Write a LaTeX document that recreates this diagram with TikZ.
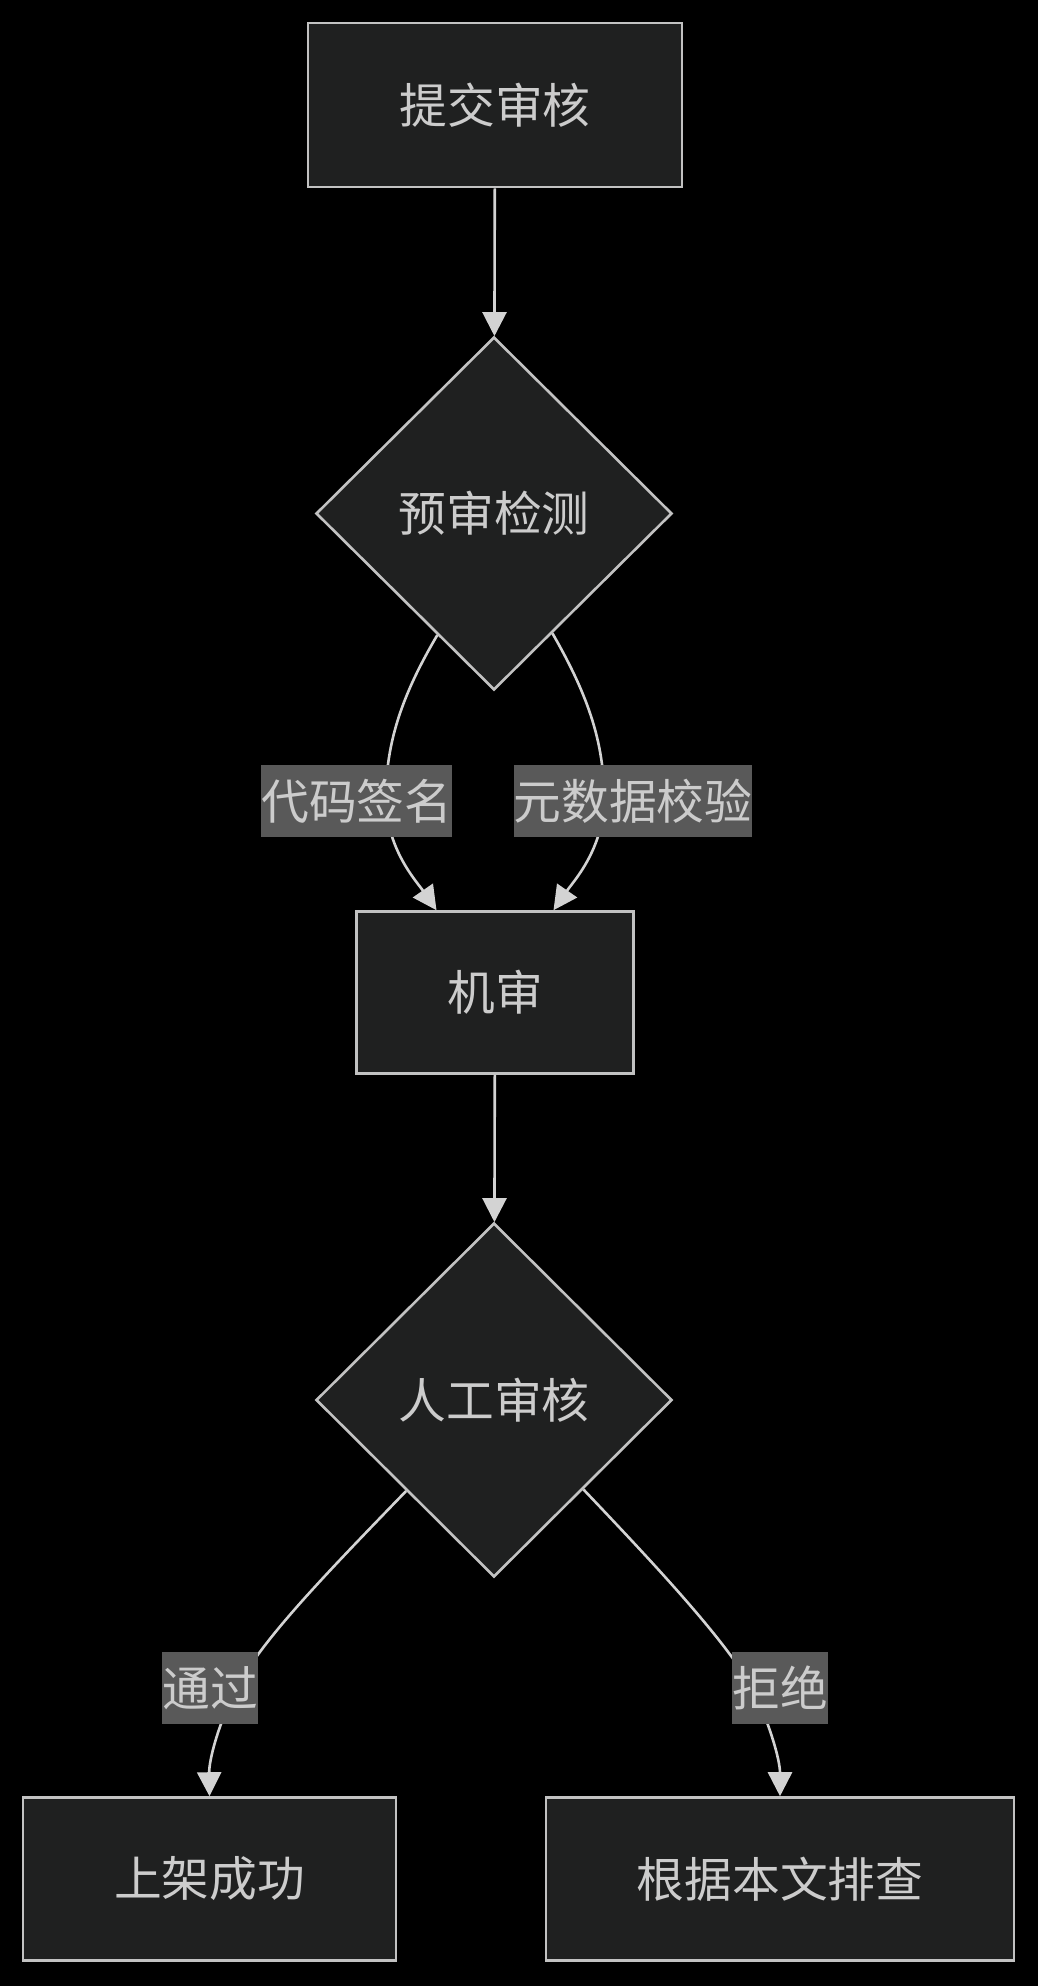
\documentclass[tikz,border=0pt]{standalone}
\usepackage{fontspec}
\setmainfont{Noto Sans CJK SC}
\usetikzlibrary{shapes.geometric,arrows.meta}
\definecolor{nodefill}{HTML}{1F2020}
\definecolor{nodeline}{HTML}{C2C2C2}
\definecolor{edgecol}{HTML}{D3D3D3}
\definecolor{txtcol}{HTML}{CCCCCC}
\definecolor{lblbg}{HTML}{595959}
\newcommand\dfont{\fontsize{47.75pt}{57pt}\selectfont}
\begin{document}
\begin{tikzpicture}[x=1pt,y=-1pt,
  box/.style={draw=nodeline,fill=nodefill,line width=2.6pt,inner sep=0pt,text=txtcol,font=\dfont},
  rectbox/.style={box,rectangle},
  decision/.style={box,diamond},
  edge/.style={draw=edgecol,line width=2.6pt,-{Triangle[length=24pt,width=24pt]}},
  lbl/.style={fill=lblbg,text=txtcol,font=\dfont,inner xsep=0pt,inner ysep=0pt,minimum height=72pt}
]
\fill[black] (0,0) rectangle (1038,1986);
\useasboundingbox (0,0) rectangle (1038,1986);

\node[rectbox,minimum width=374pt,minimum height=164pt] (submit) at (495,105) {提交审核};
\node[decision,minimum width=356pt,minimum height=353pt] (pre) at (494,513.5) {预审检测};
\node[rectbox,minimum width=277pt,minimum height=162pt] (machine) at (495,992.5) {机审};
\node[decision,minimum width=356pt,minimum height=354pt] (manual) at (494,1400) {人工审核};
\node[rectbox,minimum width=373pt,minimum height=163pt] (ok) at (209.5,1879) {上架成功};
\node[rectbox,minimum width=468pt,minimum height=163pt] (rej) at (780,1879) {根据本文排查};

\coordinate (c1) at (386,801);
\coordinate (c2) at (604,801);
\coordinate (c3) at (236,1689);
\coordinate (c4) at (753,1689);

\draw[edge] (submit) -- (pre);
\draw[edge] (pre.245) .. controls (405,690) and (385,740) .. (c1)
  .. controls (387,850) and (417,882) .. ([xshift=-58.5pt]machine.north);
\draw[edge] (pre.296) .. controls (585,690) and (605,740) .. (c2)
  .. controls (603,850) and (573,882) .. ([xshift=58.5pt]machine.north);
\draw[edge] (machine) -- (manual);
\draw[edge] (manual.226) .. controls (320,1580) and (262,1640) .. (c3)
  .. controls (218,1725) and (209,1760) .. (ok.north);
\draw[edge] (manual.315) .. controls (660,1570) and (725,1640) .. (c4)
  .. controls (770,1725) and (780,1760) .. (rej.north);

\node[lbl] (l1) at (356.75,801) {代码签名};
\node[lbl] (l2) at (633,801) {元数据校验};
\node[lbl] (l3) at (210,1688) {通过};
\node[lbl] (l4) at (780,1688) {拒绝};
\end{tikzpicture}
\end{document}
